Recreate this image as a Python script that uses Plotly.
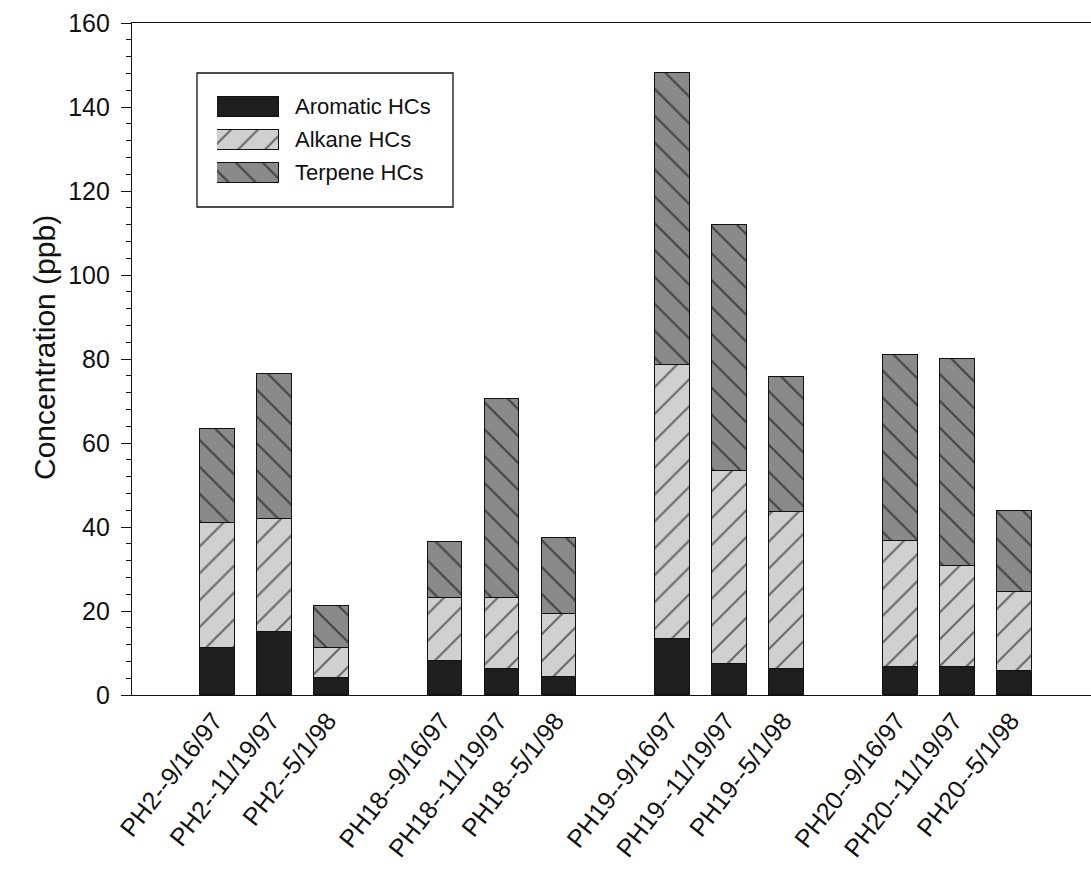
import plotly.graph_objects as go

# Sampling site / date for each stacked bar
samples = [
    "PH2--9/16/97", "PH2--11/19/97", "PH2--5/1/98",
    "PH18--9/16/97", "PH18--11/19/97", "PH18--5/1/98",
    "PH19--9/16/97", "PH19--11/19/97", "PH19--5/1/98",
    "PH20--9/16/97", "PH20--11/19/97", "PH20--5/1/98",
]

# Concentrations (ppb) of each hydrocarbon class
aromatic = [11.1, 15.1, 4.1, 8.2, 6.2, 4.2, 13.3, 7.4, 6.3, 6.6, 6.6, 5.6]
alkane = [29.9, 26.8, 7.0, 15.0, 17.0, 15.1, 65.3, 46.0, 37.2, 30.1, 24.0, 19.0]
terpene = [22.3, 34.5, 10.1, 13.2, 47.3, 18.0, 69.4, 58.5, 32.3, 44.3, 49.3, 19.2]

series_names = ["Aromatic HCs", "Alkane HCs", "Terpene HCs"]
y_ticks = [0, 20, 40, 60, 80, 100, 120, 140, 160]
y_title = "Concentration (ppb)"

# ---- figure geometry -------------------------------------------------------
W, H = 1091, 870
M_L, M_R, M_T, M_B = 132, 0, 23, 175
PLOT_W, PLOT_H = W - M_L - M_R, H - M_T - M_B


def px_x(x):
    """Pixel column -> paper x fraction."""
    return (x - M_L) / PLOT_W


def px_y(y):
    """Pixel row -> paper y fraction."""
    return (H - M_B - y) / PLOT_H


FONT = "Liberation Sans, Arial, Helvetica, sans-serif"
INK = "#111111"

styles = {
    "Aromatic HCs": dict(color="#1e1e1e", shape=""),
    "Alkane HCs": dict(color="#d0d0d0", shape="/"),
    "Terpene HCs": dict(color="#8a8a8a", shape="\\"),
}


def marker_for(name):
    st = styles[name]
    return dict(
        color=st["color"],
        line=dict(color=INK, width=1.3),
        pattern=dict(shape=st["shape"], fgcolor="#000000", size=19,
                     solidity=0.11, fillmode="overlay"),
    )


# three samples per site, with an empty slot separating the sites
x_pos = [i + i // 3 for i in range(len(samples))]
# rotated labels end just at the bar centre
label_pos = [x - 0.06 for x in x_pos]

fig = go.Figure()
for name, vals in zip(series_names, [aromatic, alkane, terpene]):
    fig.add_trace(go.Bar(
        x=x_pos, y=vals, name=name, width=0.61,
        marker=marker_for(name), showlegend=False,
        hovertemplate="%{text}<br>" + name + ": %{y} ppb<extra></extra>",
        text=samples, textposition="none",
    ))

# ---- legend: swatches drawn as bars on a small inset axis ------------------
for row, name in enumerate(series_names):
    fig.add_trace(go.Bar(
        x=[1], y=[row], base=0, orientation="h", width=0.606,
        marker=marker_for(name), showlegend=False, hoverinfo="skip",
        xaxis="x2", yaxis="y2",
    ))
    fig.add_annotation(
        x=px_x(293), y=px_y(106.5 + 33 * row), xref="paper", yref="paper",
        text=name, showarrow=False, xanchor="left", yanchor="middle",
        font=dict(family=FONT, size=22, color=INK),
    )

fig.add_shape(
    type="rect", xref="paper", yref="paper",
    x0=px_x(197), x1=px_x(453), y0=px_y(207), y1=px_y(73),
    line=dict(color=INK, width=1.3), fillcolor="rgba(0,0,0,0)", layer="above",
)

# vertical axis title
fig.add_annotation(
    x=px_x(45), y=px_y(348), xref="paper", yref="paper",
    text=y_title, textangle=-90, showarrow=False,
    xanchor="center", yanchor="middle",
    font=dict(family=FONT, size=30, color=INK),
)

fig.update_layout(
    width=W, height=H,
    margin=dict(l=M_L, r=M_R, t=M_T, b=M_B, pad=0),
    paper_bgcolor="white", plot_bgcolor="white",
    barmode="stack", bargap=0,
    font=dict(family=FONT, color=INK),
    xaxis=dict(
        range=[-1.5, 15.35], tickmode="array", tickvals=label_pos,
        ticktext=samples, tickangle=-52, tickfont=dict(size=25, color=INK),
        showline=True, linecolor=INK, linewidth=1.3, mirror=True,
        ticks="", showgrid=False, zeroline=False, automargin=False,
    ),
    yaxis=dict(
        range=[0, 160], tickmode="array", tickvals=y_ticks,
        ticks="outside", ticklen=10, tickwidth=1.2, tickcolor=INK,
        ticklabelstandoff=6,
        minor=dict(dtick=4, ticks="outside", ticklen=5, tickwidth=1.1,
                   tickcolor=INK, showgrid=False),
        tickfont=dict(size=25, color=INK),
        showline=True, linecolor=INK, linewidth=1.3,
        showgrid=False, zeroline=False, automargin=False,
    ),
    xaxis2=dict(domain=[px_x(217), px_x(279)], range=[0, 1], anchor="y2",
                visible=False, fixedrange=True),
    yaxis2=dict(domain=[px_y(189), px_y(90)], range=[2.5, -0.5], anchor="x2",
                visible=False, fixedrange=True),
)

fig.write_html("out.html")
